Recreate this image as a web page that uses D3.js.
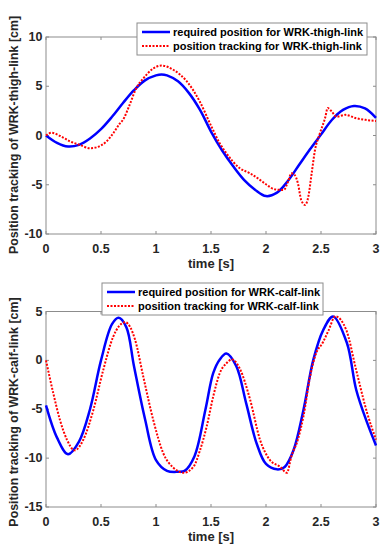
<!doctype html>
<head>
    <meta charset="UTF-8">
    <script src="https://d3js.org/d3.v7.min.js"></script>
    <style>
        body { margin: 0; background: #fff; }
        text { font-family: "Liberation Sans", Arial, sans-serif; font-weight: bold; }
    </style>
</head>
<body>
    <svg id="chart" width="388" height="550"></svg>
    <script>

        // thigh link: required position
        var thighReqTime = [0, 0.1, 0.2, 0.3, 0.4, 0.5, 0.6, 0.7, 0.8, 0.9, 1.0, 1.05, 1.1, 1.2, 1.3, 1.4, 1.5, 1.6, 1.7, 1.8, 1.9, 2.0, 2.1, 2.2, 2.3, 2.4, 2.5, 2.6, 2.7, 2.8, 2.9, 3.0];
        var thighReq = [0, -0.75, -1.12, -0.95, -0.3, 0.65, 1.9, 3.3, 4.6, 5.6, 6.1, 6.2, 6.1, 5.5, 4.3, 2.6, 0.4, -1.5, -3.1, -4.5, -5.5, -6.15, -5.8, -4.6, -3.0, -1.4, 0.1, 1.6, 2.6, 3.0, 2.75, 1.8];

        // thigh link: tracking
        var thighTrackTime = [0, 0.05, 0.13, 0.22, 0.31, 0.4, 0.46, 0.55, 0.61, 0.67, 0.7, 0.76, 0.82, 0.885, 0.975, 1.05, 1.16, 1.28, 1.4, 1.5, 1.58, 1.64, 1.7, 1.76, 1.855, 1.945, 2.006, 2.08, 2.16, 2.2, 2.23, 2.26, 2.29, 2.32, 2.355, 2.385, 2.415, 2.445, 2.49, 2.54, 2.56, 2.6, 2.64, 2.72, 2.82, 2.92, 3.0];
        var thighTrack = [0, 0.28, -0.05, -0.6, -0.97, -1.3, -1.2, -0.6, 0.2, 1.2, 1.6, 3.1, 4.8, 5.8, 6.8, 7.1, 6.65, 5.5, 3.4, 1.0, -0.8, -1.8, -2.66, -3.3, -3.84, -4.5, -5.0, -5.47, -5.53, -4.7, -3.84, -4.0, -4.85, -6.55, -7.05, -6.2, -3.84, -1.5, 0.22, 1.9, 2.8, 2.4, 1.9, 2.1, 1.75, 1.57, 1.47];

        // calf link: required position
        var calfReqTime = [0, 0.1, 0.2, 0.3, 0.4, 0.5, 0.6, 0.66, 0.73, 0.8, 0.9, 1.0, 1.1, 1.2, 1.26, 1.35, 1.45, 1.52, 1.58, 1.64, 1.73, 1.82, 1.915, 2.0, 2.1, 2.17, 2.25, 2.34, 2.43, 2.52, 2.61, 2.735, 2.82, 2.92, 3.0];
        var calfReq = [-4.6, -7.9, -9.6, -8.3, -5.0, 0.0, 3.7, 4.35, 3.4, -0.6, -6.0, -10.2, -11.3, -11.4, -11.3, -9.8, -5.0, -1.3, 0.1, 0.7, -0.6, -4.4, -8.5, -10.6, -11.15, -10.9, -9.2, -5.1, 0.05, 3.1, 4.5, 1.8, -3.0, -6.4, -8.7];

        // calf link: tracking
        var calfTrackTime = [0, 0.067, 0.127, 0.19, 0.26, 0.34, 0.43, 0.52, 0.61, 0.72, 0.81, 0.885, 0.975, 1.066, 1.16, 1.25, 1.34, 1.4, 1.46, 1.52, 1.58, 1.64, 1.69, 1.76, 1.855, 1.945, 2.036, 2.13, 2.19, 2.23, 2.29, 2.34, 2.4, 2.445, 2.52, 2.57, 2.63, 2.73, 2.82, 2.92, 3.0];
        var calfTrack = [0, -3.4, -6.1, -8.1, -9.2, -8.1, -5.1, -1.0, 2.4, 3.9, 2.1, -1.7, -6.1, -9.5, -11.0, -11.5, -10.9, -9.2, -6.8, -3.7, -1.3, -0.3, 0.1, -0.8, -4.0, -8.1, -10.2, -10.9, -11.5, -9.85, -8.1, -5.75, -1.7, 0.4, 1.9, 3.1, 4.5, 3.1, -1.0, -5.4, -8.1];

        var xTicks = [0, 0.5, 1, 1.5, 2, 2.5, 3];
        var thighTicks = [-10, -5, 0, 5, 10];
        var calfTicks = [-15, -10, -5, 0, 5];

        var svg = d3.select("#chart");

        var panels = [
            {
                top: 37, bottom: 234, domain: [-10, 10], ticks: thighTicks,
                reqT: thighReqTime, req: thighReq, trkT: thighTrackTime, trk: thighTrack,
                ylabel: "Position tracking of WRK-thigh-link [cm]", ymid: 135,
                legend: ["required position for WRK-thigh-link", "position tracking for WRK-thigh-link"],
                lx: 137, ly: 23, lw: 230
            },
            {
                top: 311.5, bottom: 507, domain: [-15, 5], ticks: calfTicks,
                reqT: calfReqTime, req: calfReq, trkT: calfTrackTime, trk: calfTrack,
                ylabel: "Position tracking of WRK-calf-link [cm]", ymid: 412,
                legend: ["required position for WRK-calf-link", "position tracking for WRK-calf-link"],
                lx: 102, ly: 283, lw: 221
            }
        ];

        var left = 46, right = 376;

        panels.forEach(function (p) {
            var x = d3.scaleLinear().domain([0, 3]).range([left, right]);
            var y = d3.scaleLinear().domain(p.domain).range([p.bottom, p.top]);
            var g = svg.append("g");

            // box
            g.append("rect")
                .attr("x", left).attr("y", p.top)
                .attr("width", right - left).attr("height", p.bottom - p.top)
                .attr("fill", "none").attr("stroke", "#8c8c8c").attr("stroke-width", 1);

            // ticks, inward on all sides
            xTicks.forEach(function (t) {
                g.append("line").attr("x1", x(t)).attr("x2", x(t))
                    .attr("y1", p.bottom).attr("y2", p.bottom - 3).attr("stroke", "#8c8c8c");
                g.append("line").attr("x1", x(t)).attr("x2", x(t))
                    .attr("y1", p.top).attr("y2", p.top + 3).attr("stroke", "#8c8c8c");
                g.append("text").attr("x", x(t)).attr("y", p.bottom + 18.5)
                    .attr("text-anchor", "middle").attr("font-size", 12.5).attr("fill", "#262626")
                    .text(t);
            });
            p.ticks.forEach(function (t) {
                g.append("line").attr("x1", left).attr("x2", left + 3)
                    .attr("y1", y(t)).attr("y2", y(t)).attr("stroke", "#8c8c8c");
                g.append("line").attr("x1", right).attr("x2", right - 3)
                    .attr("y1", y(t)).attr("y2", y(t)).attr("stroke", "#8c8c8c");
                g.append("text").attr("x", left - 3.5).attr("y", y(t) + 4)
                    .attr("text-anchor", "end").attr("font-size", 12.5).attr("fill", "#262626")
                    .text(t);
            });

            // axis titles
            g.append("text").attr("x", (left + right) / 2).attr("y", p.bottom + 34)
                .attr("text-anchor", "middle").attr("font-size", 13).attr("fill", "#262626")
                .text("time [s]");
            g.append("text")
                .attr("transform", "translate(17.5," + p.ymid + ") rotate(-90)")
                .attr("text-anchor", "middle").attr("font-size", 12.4).attr("fill", "#262626")
                .text(p.ylabel);

            // lines
            var reqLine = d3.line().x(function (d) { return x(d[0]); }).y(function (d) { return y(d[1]); })
                .curve(d3.curveCatmullRom.alpha(0.5));
            var trkLine = d3.line().x(function (d) { return x(d[0]); }).y(function (d) { return y(d[1]); })
                .curve(d3.curveMonotoneX);

            g.append("path")
                .datum(d3.zip(p.reqT, p.req))
                .attr("d", reqLine)
                .attr("fill", "none").attr("stroke", "#0000ff").attr("stroke-width", 2.5);
            g.append("path")
                .datum(d3.zip(p.trkT, p.trk))
                .attr("d", trkLine)
                .attr("fill", "none").attr("stroke", "#ff0000").attr("stroke-width", 2)
                .attr("stroke-dasharray", "2,1.5");

            // legend
            var lg = g.append("g");
            lg.append("rect").attr("x", p.lx).attr("y", p.ly).attr("width", p.lw).attr("height", 32)
                .attr("fill", "#fff").attr("stroke", "#8c8c8c");
            [["#0000ff", 2.5, null], ["#ff0000", 2, "2,1.5"]].forEach(function (s, k) {
                var yy = p.ly + 9 + k * 14;
                lg.append("line").attr("x1", p.lx + 5).attr("x2", p.lx + 33)
                    .attr("y1", yy).attr("y2", yy)
                    .attr("stroke", s[0]).attr("stroke-width", s[1])
                    .attr("stroke-dasharray", s[2]);
                lg.append("text").attr("x", p.lx + 36).attr("y", yy + 4)
                    .attr("font-size", 11).attr("fill", "#000")
                    .text(p.legend[k]);
            });
        });

    </script>
</body>
